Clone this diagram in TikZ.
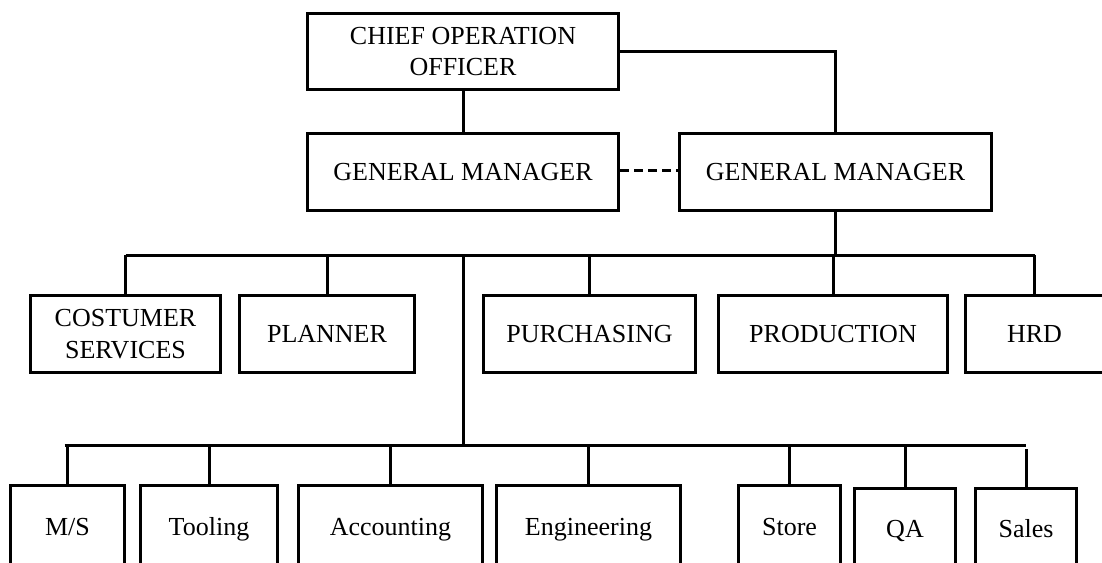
\documentclass[tikz,border=0pt]{standalone}
\usepackage{fontspec}
\setmainfont{Liberation Serif}
\usepackage{tikz}
\usetikzlibrary{positioning,calc}

\begin{document}
\begin{tikzpicture}[x=1pt,y=-1pt]
		\tikzset{box/.style={draw, line width=3pt, inner sep=0pt, align=center, font=\fontsize{26}{31.5}\selectfont},
		single/.style={box, text height=20pt, text depth=3pt},
		link/.style={line width=3pt}}
		\useasboundingbox (0,0) rectangle (1102,562);
		\clip (0,0) rectangle (1102,562);
		% top
		\node[box, minimum width=311pt, minimum height=76pt] (coo) at (463,51.5) {CHIEF OPERATION\\OFFICER};
		\node[single, minimum width=311pt, minimum height=77pt] (gm1) at (463,172) {GENERAL MANAGER};
		\node[single, minimum width=312pt, minimum height=77pt] (gm2) at (835.5,172) {GENERAL MANAGER};
		% departments
		\node[box, minimum width=190pt, minimum height=77pt] (cs) at (125.5,334) {COSTUMER\\SERVICES};
		\node[single, minimum width=175pt, minimum height=77pt] (plan) at (327,334) {PLANNER};
		\node[single, minimum width=212pt, minimum height=77pt] (purch) at (589.5,334) {PURCHASING};
		\node[single, minimum width=229pt, minimum height=77pt] (prod) at (833,334) {PRODUCTION};
		\node[single, minimum width=138pt, minimum height=77pt] (hrd) at (1034.5,334) {HRD};
		% sections
		\node[single, minimum width=114pt, minimum height=84pt] (ms) at (67.5,527) {M/S};
		\node[single, minimum width=137pt, minimum height=84pt] (tool) at (209,527) {Tooling};
		\node[single, minimum width=184pt, minimum height=84pt] (acc) at (390.5,527) {Accounting};
		\node[single, minimum width=184pt, minimum height=84pt] (eng) at (588.5,527) {Engineering};
		\node[single, minimum width=102pt, minimum height=84pt] (store) at (789.5,527) {Store};
		\node[single, minimum width=101pt, minimum height=82pt] (qa) at (905,529) {QA};
		\node[single, minimum width=101pt, minimum height=82pt] (sales) at (1026,529) {Sales};
		% lines
		\coordinate (bus1) at (463,255);
		\coordinate (bus2) at (463,445);
		\draw[link] (coo) -- (gm1);
		\draw[link] (coo.east) -| (gm2.north);
		\draw[link, dash pattern=on 9pt off 5pt] (gm1.east |- 0,170) -- (gm2.west |- 0,170);
		\draw[link] (gm2.south) -- (gm2.south |- bus1);
		\draw[link] (cs.north |- bus1) -- (hrd.north |- bus1);
		\foreach \n in {cs,plan,purch,prod,hrd}
			\draw[link] (\n.north |- bus1) -- (\n.north);
		\draw[link] (bus1) -- (bus2);
		\draw[link] ($(ms.north |- bus2)+(-3,0)$) -- (sales.north |- bus2);
		\foreach \n in {ms,tool,acc,eng,store,qa}
			\draw[link] (\n.north |- bus2) -- (\n.north);
		\draw[link] ($(sales.north |- bus2)+(0,4)$) -- (sales.north);
\end{tikzpicture}
\end{document}
